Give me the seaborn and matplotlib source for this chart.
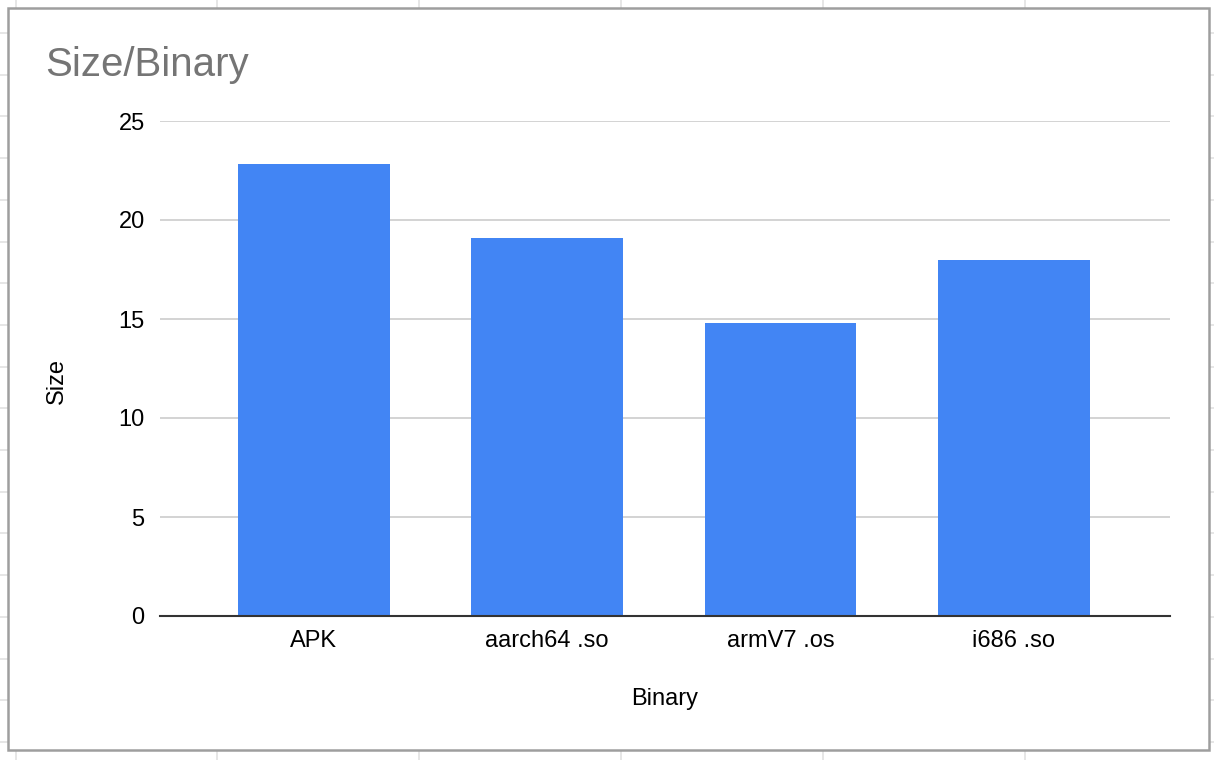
import matplotlib
matplotlib.use("Agg")
import pandas as pd
import seaborn as sns
from matplotlib import pyplot as plt
from matplotlib.lines import Line2D
from matplotlib.patches import Rectangle

# dados do gráfico
binaries = ["APK", "aarch64 .so", "armV7 .os", "i686 .so"]
sizes = [22.85, 19.1, 14.8, 18.0]
y_ticks = [0, 5, 10, 15, 20, 25]

df = pd.DataFrame({"Binary": binaries, "Size": sizes})

sns.set_style("white")
plt.rcParams["font.family"] = ["Liberation Sans", "DejaVu Sans"]

W, H = 1214, 760
fig = plt.figure(figsize=(W / 100, H / 100), dpi=100)
ax = fig.add_axes([160 / W, 1 - 616 / H, 1010 / W, 495 / H])

# grade da planilha ao fundo (fora da moldura)
for x in [15.5, 217, 419, 621, 823, 1025]:
    fig.add_artist(Line2D([x / W, x / W], [0, 1], color="#e2e2e2", lw=1.2, zorder=-3))
y = 33
while y < H:
    fig.add_artist(Line2D([0, 1], [1 - y / H, 1 - y / H], color="#e2e2e2", lw=1.2, zorder=-3))
    y += 41.7

# moldura do gráfico
fig.add_artist(Rectangle((7.5 / W, 10 / H), 1201.5 / W, 742 / H,
                         transform=fig.transFigure, facecolor="white",
                         edgecolor="#9e9e9e", linewidth=1.8, zorder=-2))

sns.barplot(data=df, x="Binary", y="Size", color="#4285f4", width=0.65,
            saturation=1, linewidth=0, ax=ax, zorder=3)

ax.set_facecolor("none")
ax.set_ylim(0, 25)
ax.set_xlim(-0.66, 3.67)
ax.set_yticks(y_ticks)
ax.yaxis.grid(True, color="#cccccc", linewidth=1.2, zorder=0)
ax.set_axisbelow(True)
for s in ["top", "right", "left"]:
    ax.spines[s].set_visible(False)
ax.spines["bottom"].set_color("#333333")
ax.spines["bottom"].set_linewidth(1.5)
ax.spines["bottom"].set_zorder(4)
ax.tick_params(axis="both", length=0, labelsize=17, colors="black")
ax.tick_params(axis="y", pad=11)
ax.tick_params(axis="x", pad=10)

ax.set_xlabel("Binary", fontsize=17, va="center", color="black")
ax.set_ylabel("Size", fontsize=17, va="center", color="black")
ax.xaxis.set_label_coords(0.5, (616 - 699) / 495)
ax.yaxis.set_label_coords((57 - 160) / 1010, (616 - 381) / 495)

fig.text(45 / W, 1 - 65 / H, "Size/Binary", fontsize=29, color="#757575",
         ha="left", va="center")

plt.savefig("out.png", dpi=100)
